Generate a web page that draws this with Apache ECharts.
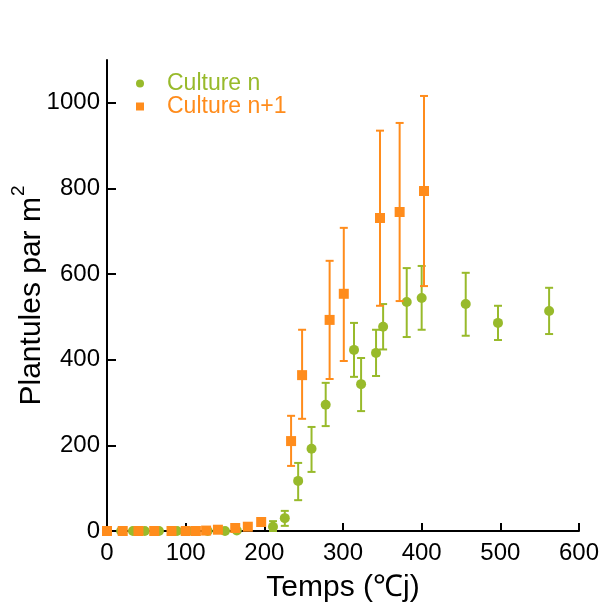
<!DOCTYPE html>
<html>
<head>
<meta charset="utf-8">
<script src="https://cdn.jsdelivr.net/npm/echarts@6/dist/echarts.min.js"></script>
<style>html,body{margin:0;padding:0;background:#fff}#c{width:603px;height:610px}</style>
</head>
<body>
<div id="c"></div>
<script>
// ---- data ----
var greenName = 'Culture n';
var orangeName = 'Culture n+1';
var greenX  = [18, 33, 48, 66, 89, 103, 112, 128, 150, 165, 211, 226, 243, 260, 278, 314, 323, 342, 351, 381, 400, 456, 497, 562];
var greenY  = [0, 0, 0, 0, 0, 0, 0, 0, 0, 1, 10, 30, 117, 192, 295, 423, 343, 416, 477, 535, 544, 530, 486, 514];
var greenLo = [null, null, null, null, null, null, null, null, null, null, 0, 12, 72, 138, 245, 360, 280, 362, 424, 453, 470, 456, 446, 460];
var greenHi = [null, null, null, null, null, null, null, null, null, null, 23, 47, 159, 243, 346, 486, 404, 470, 530, 614, 619, 603, 526, 568];
var orangeX  = [0, 20, 40, 60, 82, 100, 113, 126, 141, 163, 179, 196, 234, 248, 283, 301, 347, 372, 403];
var orangeY  = [0, 0, 0, 0, 0, 0, 0, 1, 3, 7, 10, 21, 210, 364, 493, 554, 731, 745, 794];
var orangeLo = [null, null, null, null, null, null, null, null, null, null, null, null, 152, 262, 355, 397, 526, 537, 572];
var orangeHi = [null, null, null, null, null, null, null, null, null, null, null, null, 269, 470, 631, 708, 935, 953, 1016];
var yTicks = [0, 200, 400, 600, 800, 1000];

var GREEN = '#98BA2B';
var ORANGE = '#FF8C1C';
var FONT = "'Liberation Sans', Arial, sans-serif";

function pts(xs, ys) { return xs.map(function (x, i) { return [x, ys[i]]; }); }
function errs(xs, lo, hi) {
  var out = [];
  xs.forEach(function (x, i) { if (lo[i] != null) out.push([x, lo[i], hi[i]]); });
  return out;
}
function errRender(color) {
  return function (params, api) {
    var x = api.value(0);
    var a = api.coord([x, api.value(1)]);
    var b = api.coord([x, api.value(2)]);
    var hw = 4;
    var st = { stroke: color, lineWidth: 2 };
    return {
      type: 'group',
      children: [
        { type: 'line', shape: { x1: a[0], y1: a[1], x2: b[0], y2: b[1] }, style: st },
        { type: 'line', shape: { x1: a[0] - hw, y1: a[1], x2: a[0] + hw, y2: a[1] }, style: st },
        { type: 'line', shape: { x1: b[0] - hw, y1: b[1], x2: b[0] + hw, y2: b[1] }, style: st }
      ]
    };
  };
}

var chart = echarts.init(document.getElementById('c'), null, { renderer: 'canvas' });
chart.setOption({
  animation: false,
  backgroundColor: '#fff',
  textStyle: { fontFamily: FONT },
  grid: { left: 107, right: 24, top: 60, bottom: 79, containLabel: false, outerBoundsMode: 'none' },
  legend: {
    orient: 'vertical',
    left: 131, top: 67,
    itemWidth: 8, itemHeight: 8, itemGap: 0,
    data: [
      { name: greenName, icon: 'circle', textStyle: { color: GREEN } },
      { name: orangeName, icon: 'rect', textStyle: { color: ORANGE } }
    ],
    textStyle: { fontFamily: FONT, fontSize: 23, lineHeight: 23, padding: [0, 0, 0, 18] }
  },
  xAxis: {
    type: 'value', min: 0, max: 600, interval: 100,
    name: 'Temps (℃j)', nameLocation: 'middle', nameGap: 42, nameMoveOverlap: false,
    nameTextStyle: { fontFamily: FONT, fontSize: 30, color: '#000' },
    axisLine: { show: true, onZero: false, lineStyle: { color: '#000', width: 2 } },
    axisTick: { show: true, inside: true, length: 8, lineStyle: { color: '#000', width: 2 } },
    axisLabel: { fontFamily: FONT, fontSize: 24, color: '#000', margin: 10, formatter: function (v) { return String(v); } },
    splitLine: { show: false }
  },
  yAxis: {
    type: 'value', min: 0, max: 1100,
    name: '{b|Plantules par m}{sup|2}', nameLocation: 'middle', nameGap: 60, nameMoveOverlap: false,
    nameTextStyle: {
      fontFamily: FONT, fontSize: 30, color: '#000',
      rich: {
        b: { fontFamily: FONT, fontSize: 30, color: '#000', verticalAlign: 'bottom' },
        sup: { fontFamily: FONT, fontSize: 19, color: '#000', verticalAlign: 'top', padding: [0, 0, 19, 1] }
      }
    },
    axisLine: { show: true, onZero: false, lineStyle: { color: '#000', width: 2 } },
    axisTick: { show: true, inside: true, length: 9, customValues: yTicks, lineStyle: { color: '#000', width: 2 } },
    axisLabel: { fontFamily: FONT, fontSize: 24, color: '#000', margin: 7, customValues: yTicks, formatter: function (v) { return String(v); } },
    splitLine: { show: false }
  },
  series: [
    { name: greenName, type: 'custom', renderItem: errRender(GREEN), data: errs(greenX, greenLo, greenHi), z: 2, encode: { x: 0, y: [1, 2] }, color: GREEN },
    { name: greenName, type: 'scatter', symbol: 'circle', symbolSize: 10, data: pts(greenX, greenY), itemStyle: { color: GREEN, opacity: 1 }, z: 3 },
    { name: orangeName, type: 'custom', renderItem: errRender(ORANGE), data: errs(orangeX, orangeLo, orangeHi), z: 4, encode: { x: 0, y: [1, 2] }, color: ORANGE },
    { name: orangeName, type: 'scatter', symbol: 'rect', symbolSize: 10, data: pts(orangeX, orangeY), itemStyle: { color: ORANGE, opacity: 1 }, z: 5 }
  ]
});
</script>
</body>
</html>
